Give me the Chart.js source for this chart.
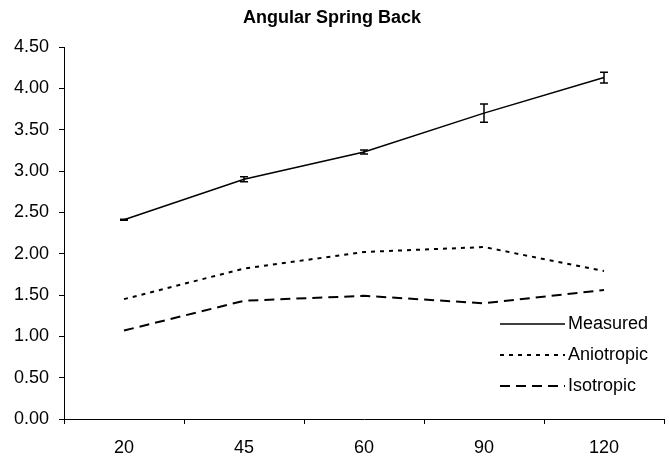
<!DOCTYPE html>
<html>
<head>
<meta charset="utf-8">
<script src="https://cdn.jsdelivr.net/npm/chart.js@4/dist/chart.umd.min.js"></script>
<style>
  html, body { margin: 0; padding: 0; background: #fff; }
  #wrap { width: 669px; height: 466px; }
</style>
</head>
<body>
<div id="wrap"><canvas id="chartSpring"></canvas></div>
<script>
const categories = ['20', '45', '60', '90', '120'];
const measured = [2.41, 2.90, 3.23, 3.70, 4.13];
const measuredErr = [0.005, 0.03, 0.025, 0.11, 0.065];
const aniotropic = [1.45, 1.82, 2.02, 2.08, 1.79];
const isotropic = [1.07, 1.43, 1.49, 1.40, 1.56];
const seriesNames = ['Measured', 'Aniotropic', 'Isotropic'];

const FONT = "'Liberation Sans', Arial, sans-serif";

// error bars on the measured series
const errorBars = {
    id: 'errorBars',
    afterDatasetsDraw(chart) {
        const meta = chart.getDatasetMeta(0);
        const y = chart.scales.y;
        const ctx = chart.ctx;
        ctx.save();
        ctx.strokeStyle = '#000';
        ctx.lineWidth = 1.5;
        meta.data.forEach((pt, i) => {
            const top = y.getPixelForValue(measured[i] + measuredErr[i]);
            const bot = y.getPixelForValue(measured[i] - measuredErr[i]);
            ctx.beginPath();
            ctx.moveTo(pt.x, top); ctx.lineTo(pt.x, bot);
            ctx.moveTo(pt.x - 4, top); ctx.lineTo(pt.x + 4, top);
            ctx.moveTo(pt.x - 4, bot); ctx.lineTo(pt.x + 4, bot);
            ctx.stroke();
        });
        ctx.restore();
    }
};

// legend sits inside the plot, lower right
const innerLegend = {
    id: 'innerLegend',
    afterDraw(chart) {
        const ctx = chart.ctx;
        const x0 = 500, x1 = 565;
        const rows = [324, 355, 386];
        ctx.save();
        chart.data.datasets.forEach((ds, i) => {
            ctx.beginPath();
            ctx.strokeStyle = '#000';
            ctx.lineWidth = ds.borderWidth;
            ctx.setLineDash(ds.borderDash || []);
            ctx.moveTo(x0, rows[i]);
            ctx.lineTo(x1, rows[i]);
            ctx.stroke();
            ctx.setLineDash([]);
            ctx.fillStyle = '#000';
            ctx.font = '18px ' + FONT;
            ctx.textBaseline = 'middle';
            ctx.textAlign = 'left';
            ctx.fillText(ds.label, x1 + 3, rows[i]);
        });
        ctx.restore();
    }
};

new Chart(document.getElementById('chartSpring'), {
    type: 'line',
    data: {
        labels: categories,
        datasets: [
            { label: seriesNames[0], data: measured, borderColor: '#000', borderWidth: 1.5, pointRadius: 0, tension: 0 },
            { label: seriesNames[1], data: aniotropic, borderColor: '#000', borderWidth: 2, borderDash: [4, 5], pointRadius: 0, tension: 0 },
            { label: seriesNames[2], data: isotropic, borderColor: '#000', borderWidth: 2, borderDash: [10, 6], pointRadius: 0, tension: 0 }
        ]
    },
    options: {
        responsive: true,
        maintainAspectRatio: false,
        animation: false,
        layout: { padding: { left: 0, right: 5, top: 0, bottom: 0 } },
        plugins: {
            legend: { display: false },
            tooltip: { enabled: false },
            title: {
                display: true,
                text: 'Angular Spring Back',
                color: '#000',
                font: { family: FONT, size: 18, weight: 'bold' },
                padding: { top: 7.2, bottom: 18.2 }
            }
        },
        scales: {
            x: {
                offset: true,
                grid: { offset: true, drawOnChartArea: false, drawTicks: true, tickLength: 5, color: '#000' },
                border: { display: true, color: '#000', width: 1 },
                ticks: { color: '#000', font: { family: FONT, size: 18 }, padding: 13, maxRotation: 0 },
                afterFit(scale) { scale.height = 47; }
            },
            y: {
                min: 0,
                max: 4.5,
                ticks: {
                    stepSize: 0.5,
                    color: '#000',
                    padding: 10,
                    font: { family: FONT, size: 18 },
                    callback: v => v.toFixed(2)
                },
                grid: { drawOnChartArea: false, drawTicks: true, tickLength: 5, color: '#000' },
                border: { display: true, color: '#000', width: 1 },
                afterFit(scale) { scale.width = 64; }
            }
        }
    },
    plugins: [errorBars, innerLegend]
});
</script>
</body>
</html>
